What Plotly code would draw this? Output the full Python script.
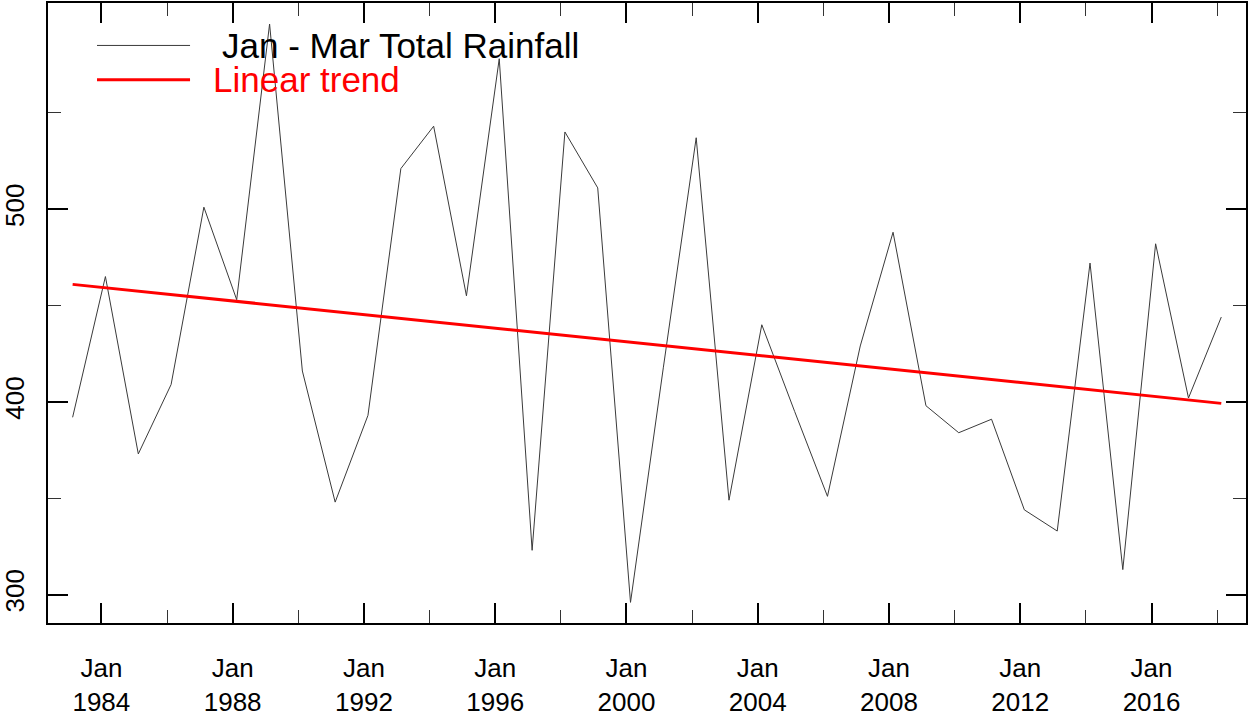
import numpy as np
import plotly.graph_objects as go

# ----------------------------
# Data: Jan - Mar total rainfall, one value per year
# ----------------------------
years = list(range(1983, 2019))
rainfall = [392, 465, 373, 409, 501, 453, 596, 416, 348, 393,
            521, 543, 455, 578, 323, 540, 511, 296, 418, 537,
            349, 440, 395, 351, 429, 488, 398, 384, 391, 344,
            333, 472, 313, 482, 402, 444]

tick_years = [1984, 1988, 1992, 1996, 2000, 2004, 2008, 2012, 2016]
minor_years = [1986, 1990, 1994, 1998, 2002, 2006, 2010, 2014, 2018]
tick_labels = [f"Jan<br>{y}" for y in tick_years]
y_ticks = [300, 400, 500]
y_minor = [350, 450, 550]

dates = [f"{y}-02-15" for y in years]

# Linear trend (least squares fit)
coef = np.polyfit(np.array(years, dtype=float), np.array(rainfall, dtype=float), 1)
trend = np.polyval(coef, np.array(years, dtype=float))

FONT = "Liberation Sans, Arial, Helvetica, sans-serif"

fig = go.Figure()
fig.add_trace(go.Scatter(x=dates, y=rainfall, mode="lines",
                         line=dict(color="#3a3a3a", width=1),
                         name="Jan - Mar Total Rainfall"))
fig.add_trace(go.Scatter(x=dates, y=trend, mode="lines",
                         line=dict(color="#ff0000", width=3),
                         name="Linear trend"))

axis_common = dict(
    showline=True, linecolor="black", linewidth=1.5, mirror="allticks",
    ticks="inside", ticklen=20, tickwidth=1.5, tickcolor="black",
    showgrid=False, zeroline=False, automargin=False,
    tickfont=dict(family=FONT, size=26, color="black"),
)

fig.update_xaxes(
    type="date",
    range=["1982-05-17", "2018-11-17"],
    tickmode="array",
    tickvals=[f"{y}-01-01" for y in tick_years],
    ticktext=tick_labels,
    minor=dict(ticks="inside", ticklen=13, tickwidth=1.2, tickcolor="#333",
               tickmode="array", tickvals=[f"{y}-01-01" for y in minor_years]),
    ticklabelstandoff=21,
    **axis_common,
)
fig.update_yaxes(
    range=[285.3, 606.9],
    tickmode="array",
    tickvals=y_ticks,
    ticktext=[str(v) for v in y_ticks],
    tickangle=-90,
    minor=dict(ticks="inside", ticklen=13, tickwidth=1.2, tickcolor="#333",
               tickmode="array", tickvals=y_minor),
    ticklabelstandoff=12,
    **axis_common,
)

# Legend drawn by hand in the top-left corner (R style)
px0, pw = 48, 1197.7
py_bottom, ph = 622.7, 619.4


def px(x):
    return (x - px0) / pw


def py(y):
    return (py_bottom - y) / ph


legend_items = [
    ("Jan - Mar Total Rainfall", "#3a3a3a", 1, 45.7, 220),
    ("Linear trend", "#ff0000", 3, 80, 211),
]
for label, color, width, ly, tx in legend_items:
    fig.add_shape(type="line", xref="paper", yref="paper",
                  x0=px(97), x1=px(190), y0=py(ly), y1=py(ly),
                  line=dict(color=color, width=width))
    fig.add_annotation(text=label, xref="paper", yref="paper",
                       x=px(tx), y=py(ly), xanchor="left", yanchor="middle",
                       showarrow=False,
                       font=dict(family=FONT, size=35, color=color if color == "#ff0000" else "black"))

fig.update_layout(
    width=1250, height=715,
    margin=dict(l=48, r=4, t=3, b=92),
    paper_bgcolor="white", plot_bgcolor="white",
    showlegend=False,
)

# the page body has a default 8px margin; drop it so the figure sits at (0, 0)
fig.write_html("out.html", config={"displayModeBar": False},
               post_script="document.body.style.margin='0';")
